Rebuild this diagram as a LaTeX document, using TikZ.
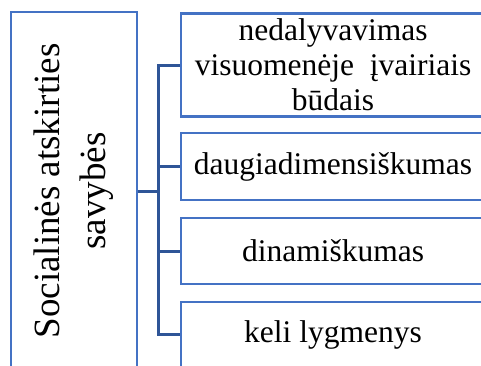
\documentclass[tikz,border=0pt]{standalone}
\usepackage{fontspec}
\setmainfont{Liberation Serif}
\definecolor{boxblue}{HTML}{4472C4}
\definecolor{linkblue}{HTML}{2F5597}
\begin{document}
\begin{tikzpicture}[x=1pt,y=-1pt,
  box/.style={draw=boxblue,line width=2.6pt,inner sep=0pt,align=center,
    font=\fontsize{31.5}{35}\selectfont},
  link/.style={draw=linkblue,line width=3pt}]
\useasboundingbox (0,0) rectangle (481,365);
\clip (0,0) rectangle (481,365);
\node[box,minimum width=126pt,minimum height=358pt,font=\fontsize{37}{44}\selectfont] (L) at (74,191)
  {\rotatebox{90}{\begin{tabular}{@{}c@{}}Socialinės atskirties\\[2pt] savybės\end{tabular}}};
\node[box,minimum width=304pt,minimum height=103pt] (B1) at (333,65)
  {nedalyvavimas\\visuomenėje \ įvairiais\\būdais};
\node[box,minimum width=304pt,minimum height=67pt] (B2) at (333,166.5) {daugiadimensiškumas};
\node[box,minimum width=304pt,minimum height=66pt] (B3) at (333,251) {dinamiškumas};
\node[box,minimum width=304pt,minimum height=65pt] (B4) at (333,334.5) {keli lygmenys};
\coordinate (bus) at (158,0);
\draw[link] (L.east) -- (L.east -| bus);
\draw[link,line cap=rect] (B1.west -| bus) -- (B4.west -| bus);
\foreach \b in {B1,B2,B3,B4} \draw[link] (\b.west -| bus) -- (\b.west);
\end{tikzpicture}
\end{document}
